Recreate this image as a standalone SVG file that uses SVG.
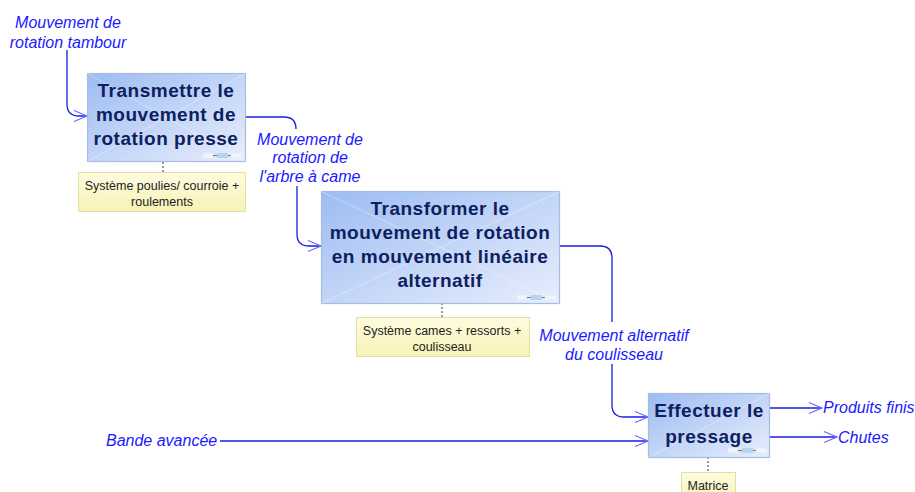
<svg xmlns="http://www.w3.org/2000/svg" width="915" height="492" viewBox="0 0 915 492">
<style>
.box{stroke:#a7bce2;stroke-width:1.2}
.diag{stroke:#ffffff;stroke-opacity:0.35;stroke-width:1;fill:none}
.bt{font-family:"Liberation Sans",Arial,sans-serif;font-weight:bold;font-size:19px;fill:#0d2060;text-anchor:middle;letter-spacing:0.5px}
.note{fill:url(#ng);stroke:#e3df9f;stroke-width:1}
.nt{font-family:"Liberation Sans",Arial,sans-serif;font-size:12.5px;fill:#222;text-anchor:middle}
.lbl{font-family:"Liberation Sans",Arial,sans-serif;font-style:italic;font-size:16px;fill:#1a1aff}
.con{fill:none;stroke:#1c1cdc;stroke-width:1.3}
.dot{stroke:#333;stroke-width:1;stroke-dasharray:2,2}
</style>
<defs>
<linearGradient id="bg" x1="0" y1="0" x2="1" y2="1">
<stop offset="0" stop-color="#9dbcf2"/>
<stop offset="1" stop-color="#e8eefc"/>
</linearGradient>
<linearGradient id="ng" x1="0" y1="0" x2="0" y2="1">
<stop offset="0" stop-color="#fefce0"/>
<stop offset="1" stop-color="#f7f2b6"/>
</linearGradient>
<marker id="arr" markerWidth="16" markerHeight="14" refX="14" refY="7" orient="auto" markerUnits="userSpaceOnUse">
<polyline points="1,1.5 14,7 1,12.5" fill="none" stroke="#6a6aff" stroke-width="1.2"/>
</marker>
<g id="deco">
<rect x="0" y="0" width="10" height="5" fill="#f0f5fd" stroke="#dde6f7" stroke-width="0.6"/>
<line x1="10" y1="2.5" x2="14" y2="2.5" stroke="#555" stroke-width="0.8"/>
<rect x="14" y="0" width="11" height="5" fill="#b9d3ee"/>
<line x1="25" y1="2.5" x2="28" y2="2.5" stroke="#555" stroke-width="0.8"/>
<rect x="28" y="0" width="11" height="5" fill="#f0f5fd" stroke="#dde6f7" stroke-width="0.6"/>
</g>
</defs>
<rect width="915" height="492" fill="#ffffff"/>

<g id="connectors">
<path class="con" d="M67,50 V104 Q67,116 79,116 H87" marker-end="url(#arr)"/>
<path class="con" d="M246,117 H284 Q296,117 296,129"/>
<path class="con" d="M297,186 V234 Q297,246 309,246 H321" marker-end="url(#arr)"/>
<path class="con" d="M559,246 H600 Q612,246 612,258 V322"/>
<path class="con" d="M612,364 V405 Q612,417 624,417 H648" marker-end="url(#arr)"/>
<path class="con" d="M220,441 H648" marker-end="url(#arr)"/>
<path class="con" d="M769,408 H822" marker-end="url(#arr)"/>
<path class="con" d="M769,437 H837" marker-end="url(#arr)"/>
<line class="dot" x1="163" y1="162" x2="163" y2="172"/>
<line class="dot" x1="442" y1="303" x2="442" y2="317"/>
<line class="dot" x1="708" y1="457" x2="708" y2="472"/>
</g>

<g id="labels">
<text class="lbl" text-anchor="middle"><tspan x="68" y="28">Mouvement de</tspan><tspan x="68" y="48">rotation tambour</tspan></text>
<text class="lbl" text-anchor="middle"><tspan x="310" y="145">Mouvement de</tspan><tspan x="310" y="163">rotation de</tspan><tspan x="310" y="182">l'arbre à came</tspan></text>
<text class="lbl" text-anchor="middle"><tspan x="614" y="341">Mouvement alternatif</tspan><tspan x="614" y="360">du coulisseau</tspan></text>
<text class="lbl" x="106" y="446">Bande avancée</text>
<text class="lbl" x="823" y="413">Produits finis</text>
<text class="lbl" x="838" y="443">Chutes</text>
</g>

<g id="n1">
<rect class="box" x="87.5" y="73.5" width="158" height="88" fill="url(#bg)"/>
<path class="diag" d="M87.5,73.5 L245.5,161.5 M245.5,73.5 L87.5,161.5"/>
<use href="#deco" x="203" y="153"/>
<text class="bt"><tspan x="166" y="97">Transmettre le</tspan><tspan x="166" y="121">mouvement de</tspan><tspan x="166" y="145">rotation presse</tspan></text>
</g>

<g id="n1note">
<rect class="note" x="78.5" y="172.5" width="167" height="39"/>
<text class="nt"><tspan x="162" y="189.5">Système poulies/ courroie +</tspan><tspan x="162" y="205.5">roulements</tspan></text>
</g>

<g id="n2">
<rect class="box" x="321.5" y="191.5" width="238" height="112" fill="url(#bg)"/>
<path class="diag" d="M321.5,191.5 L559.5,303.5 M559.5,191.5 L321.5,303.5"/>
<use href="#deco" x="517" y="295"/>
<text class="bt"><tspan x="440" y="215">Transformer le</tspan><tspan x="440" y="239">mouvement de rotation</tspan><tspan x="440" y="263">en mouvement linéaire</tspan><tspan x="440" y="287">alternatif</tspan></text>
</g>

<g id="n2note">
<rect class="note" x="356.5" y="317.5" width="173" height="39"/>
<text class="nt"><tspan x="442" y="334.5">Système cames + ressorts +</tspan><tspan x="442" y="350.5">coulisseau</tspan></text>
</g>

<g id="n3">
<rect class="box" x="648.5" y="393.5" width="121" height="64" fill="url(#bg)"/>
<path class="diag" d="M648.5,457.5 L769.5,393.5"/>
<use href="#deco" x="728" y="448"/>
<text class="bt"><tspan x="709" y="417">Effectuer le</tspan><tspan x="709" y="443">pressage</tspan></text>
</g>

<g id="n3note">
<rect class="note" x="681.5" y="472.5" width="54" height="30"/>
<text class="nt" x="708" y="489.5">Matrice</text>
</g>
</svg>
